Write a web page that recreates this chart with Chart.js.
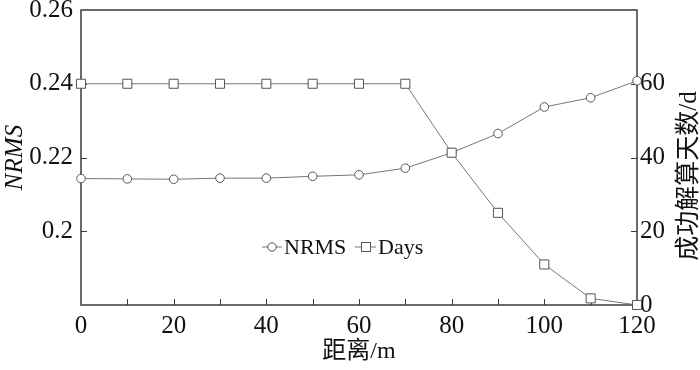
<!DOCTYPE html>
<html>
<head>
<meta charset="utf-8">
<script src="https://cdn.jsdelivr.net/npm/chart.js@4.4.1/dist/chart.umd.min.js"></script>
<style>
  html, body { margin: 0; padding: 0; background: #fff; }
  #wrap { width: 700px; height: 370px; }
</style>
</head>
<body>
<div id="wrap"><canvas id="chart"></canvas></div>
<script>
// distance in metres, NRMS (left axis), successfully solved days (right axis)
const distance = [0, 10, 20, 30, 40, 50, 60, 70, 80, 90, 100, 110, 120];
const nrms = [0.2143, 0.2142, 0.2141, 0.2144, 0.2144, 0.2149, 0.2153, 0.2171, 0.2213, 0.2265, 0.2337, 0.2362, 0.2408];
const days = [60, 60, 60, 60, 60, 60, 60, 60, 41.3, 25, 11, 1.8, 0];
const minorXTicks = [10, 20, 30, 40, 50, 60, 70, 80, 90, 100, 110];
const leftTicks = [0.2, 0.22, 0.24];
const rightTicks = [20, 40, 60];

const serif = "'Liberation Serif', 'Noto Sans CJK SC', serif";
const axisColor = "#3a3a3a";
const lineColor = "#777";
const markColor = "#555";

// frame plus inward tick marks
const framePlugin = {
  id: "frame",
  beforeDatasetsDraw(chart) {
    const { ctx, chartArea: a, scales } = chart;
    ctx.save();
    ctx.strokeStyle = axisColor;
    ctx.lineWidth = 1.5;
    ctx.strokeRect(a.left, a.top, a.right - a.left, a.bottom - a.top);
    ctx.lineWidth = 1;
    ctx.beginPath();
    minorXTicks.forEach((v) => {
      const x = Math.round(scales.x.getPixelForValue(v)) + 0.5;
      ctx.moveTo(x, a.bottom);
      ctx.lineTo(x, a.bottom - 6);
    });
    leftTicks.forEach((v) => {
      const y = Math.round(scales.y.getPixelForValue(v)) + 0.5;
      ctx.moveTo(a.left, y);
      ctx.lineTo(a.left + 6, y);
    });
    rightTicks.forEach((v) => {
      const y = Math.round(scales.y1.getPixelForValue(v)) + 0.5;
      ctx.moveTo(a.right, y);
      ctx.lineTo(a.right - 6, y);
    });
    ctx.stroke();
    ctx.restore();
  },
  afterDraw(chart) {
    const { ctx } = chart;
    ctx.save();
    // right axis title, reading bottom to top
    ctx.fillStyle = "#111";
    ctx.font = "25px " + serif;
    ctx.textAlign = "center";
    ctx.textBaseline = "middle";
    ctx.translate(689, 176);
    ctx.rotate(-Math.PI / 2);
    ctx.fillText("成功解算天数/d", 0, 0);
    ctx.restore();

    // legend
    ctx.save();
    const ly = 247;
    ctx.strokeStyle = lineColor;
    ctx.lineWidth = 1;
    ctx.beginPath();
    ctx.moveTo(262, ly); ctx.lineTo(282, ly);
    ctx.moveTo(355, ly); ctx.lineTo(376, ly);
    ctx.stroke();
    ctx.fillStyle = "#fff";
    ctx.strokeStyle = markColor;
    ctx.beginPath();
    ctx.arc(272, ly, 4.2, 0, Math.PI * 2);
    ctx.fill(); ctx.stroke();
    ctx.fillRect(361.5, ly - 4.5, 9, 9);
    ctx.strokeRect(361.5, ly - 4.5, 9, 9);
    ctx.fillStyle = "#111";
    ctx.font = "22px " + serif;
    ctx.textBaseline = "middle";
    ctx.fillText("NRMS", 284, ly + 1);
    ctx.fillText("Days", 378, ly + 1);
    ctx.restore();
  },
};

const ctx = document.getElementById("chart").getContext("2d");
const chart = new Chart(ctx, {
  type: "line",
  data: {
    datasets: [
      {
        label: "Days",
        data: distance.map((d, i) => ({ x: d, y: days[i] })),
        yAxisID: "y1",
        order: 0,
        borderColor: lineColor,
        borderWidth: 1,
        pointStyle: "rect",
        pointRadius: 6.4,
        pointBackgroundColor: "#fff",
        pointBorderColor: markColor,
        pointBorderWidth: 1,
        clip: false,
      },
      {
        label: "NRMS",
        data: distance.map((d, i) => ({ x: d, y: nrms[i] })),
        yAxisID: "y",
        order: 1,
        borderColor: lineColor,
        borderWidth: 1,
        pointStyle: "circle",
        pointRadius: 4.3,
        pointBackgroundColor: "#fff",
        pointBorderColor: markColor,
        pointBorderWidth: 1,
        clip: false,
      },
    ],
  },
  options: {
    responsive: true,
    maintainAspectRatio: false,
    animation: false,
    layout: { padding: { top: 10, left: 0, right: 0, bottom: 0 } },
    plugins: {
      legend: { display: false },
      tooltip: { enabled: false },
    },
    scales: {
      x: {
        type: "linear",
        min: 0,
        max: 120,
        ticks: {
          stepSize: 20,
          padding: 6,
          color: "#111",
          font: { family: serif, size: 25 },
        },
        grid: { display: false, drawTicks: false },
        border: { display: false },
        title: {
          display: true,
          text: "距离/m",
          color: "#111",
          font: { family: serif, size: 24 },
          padding: { top: 0, bottom: 4 },
        },
        afterFit(scale) {
          scale.height = 65;
        },
      },
      y: {
        position: "left",
        min: 0.18,
        max: 0.26,
        ticks: {
          stepSize: 0.02,
          padding: 8,
          color: "#111",
          font: { family: serif, size: 25 },
          callback: (v) => (Math.abs(v - 0.18) < 1e-9 ? "" : String(+v.toFixed(2))),
        },
        grid: { display: false, drawTicks: false },
        border: { display: false },
        title: {
          display: true,
          text: "NRMS",
          color: "#111",
          font: { family: serif, size: 25, style: "italic" },
          padding: 0,
        },
        afterFit(scale) {
          scale.width = 81;
          scale.paddingTop = 0;
          scale.paddingBottom = 0;
        },
      },
      y1: {
        position: "right",
        min: 0,
        max: 80,
        ticks: {
          stepSize: 20,
          padding: 3,
          color: "#111",
          font: { family: serif, size: 25 },
          callback: (v) => (v === 80 ? "" : v),
        },
        grid: { display: false, drawTicks: false },
        border: { display: false },
        afterFit(scale) {
          scale.width = 63;
          scale.paddingTop = 0;
          scale.paddingBottom = 0;
        },
      },
    },
  },
  plugins: [framePlugin],
});
</script>
</body>
</html>
